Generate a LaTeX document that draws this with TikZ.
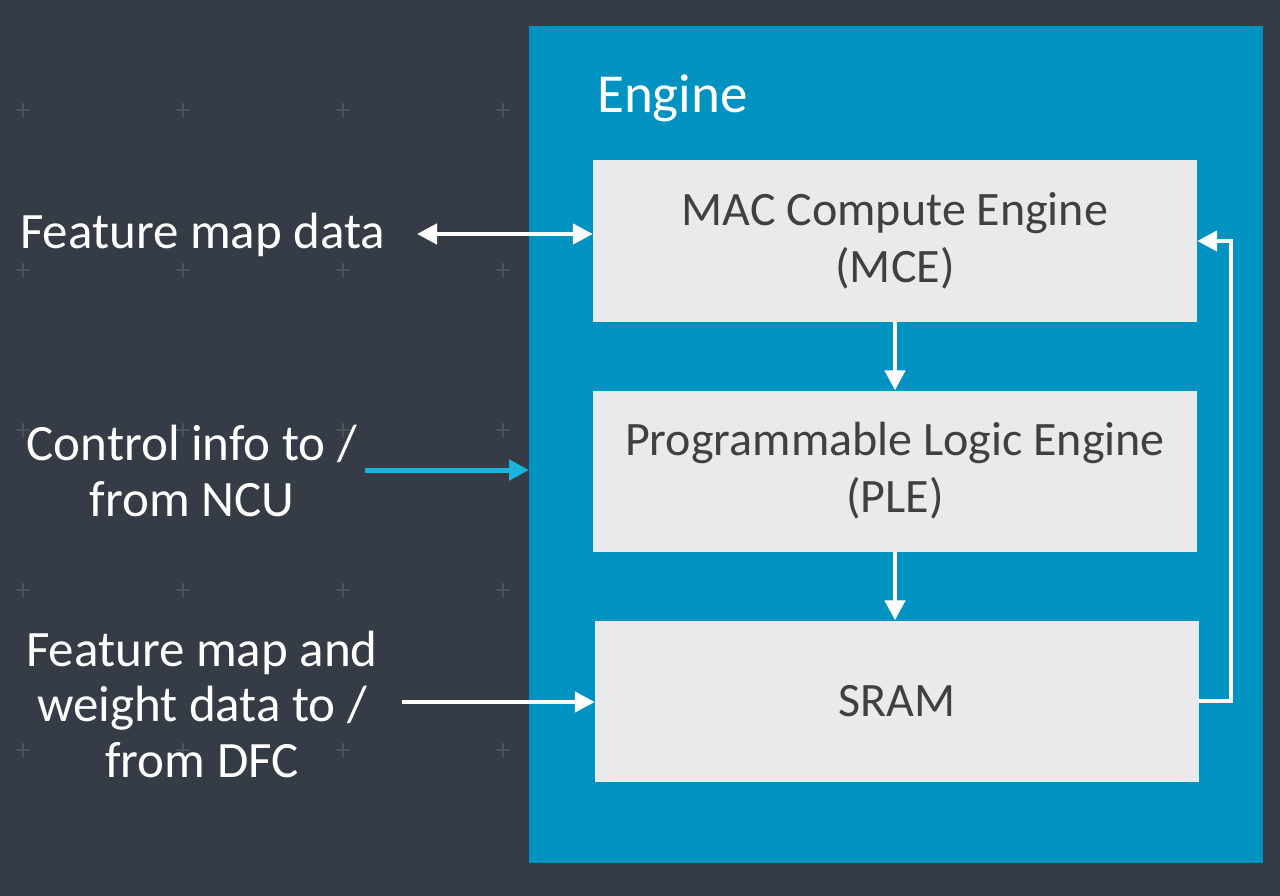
\documentclass[tikz,border=0pt]{standalone}
\usepackage{fontspec}
\setmainfont{Carlito}
\usetikzlibrary{arrows.meta}
\definecolor{bgc}{HTML}{353C46}
\definecolor{engblue}{HTML}{0093C1}
\definecolor{boxc}{HTML}{E8EAEB}
\definecolor{boxtxt}{HTML}{404040}
\definecolor{ctrlc}{HTML}{1AB4DC}
\definecolor{plusc}{HTML}{4A525C}
\tikzset{
  blk/.style={fill=boxc, draw=none, minimum width=604pt, inner sep=0pt, text=boxtxt,
    align=center, font=\fontsize{48}{57}\selectfont},
  lbl/.style={text=white, align=center, inner sep=0pt, font=\fontsize{51}{55.5}\selectfont},
  tip/.style={Triangle[length=20pt,width=20pt]},
  wline/.style={draw=white, line width=4.5pt, -{Triangle[length=20pt,width=20pt]}},
  cline/.style={draw=ctrlc, line width=5pt, -{Triangle[length=20pt,width=20pt]}},
  plusmark/.style={draw=plusc, line width=1.8pt}
}
\begin{document}
\begin{tikzpicture}[x=1pt,y=-1pt]
\useasboundingbox (0,0) rectangle (1280,896);
\fill[bgc] (0,0) rectangle (1280,896);
% plus grid
\foreach \px in {23,183,343,503}{
  \foreach \py in {110,270,430,590,750}{
    \draw[plusmark] (\px-7,\py) -- (\px+7,\py);
    \draw[plusmark] (\px,\py-7) -- (\px,\py+7);
  }
}
% engine container
\node[fill=engblue, minimum width=734pt, minimum height=837pt, inner sep=0pt, anchor=north west] (engine) at (529,26) {};
\node[text=white, anchor=base west, inner sep=0pt, font=\fontsize{55}{60}\selectfont] (title) at (597,113) {Engine};
% blocks
\node[blk, minimum height=162pt] (mce) at (895,241) {MAC Compute Engine\\(MCE)};
\node[blk, minimum height=161pt] (ple) at (895,471) {Programmable Logic Engine\\(PLE)};
\node[blk, minimum height=161pt] (sram) at (897,701) {SRAM};
% left labels
\node[lbl, anchor=base west] (fmd) at (20,249) {Feature map data};
\node[lbl] (ctl) at (192,471) {Control info to /\\from NCU};
\node[lbl] (dfc) at (202,704) {Feature map and\\weight data to /\\from DFC};
% connectors
\coordinate (fma) at (417,234);
\draw[wline, {Triangle[length=20pt,width=20pt]}-{Triangle[length=20pt,width=20pt]}] (fma) -- (fma -| mce.west);
\coordinate (cta) at (365,470);
\draw[cline] (cta) -- (cta -| engine.west);
\coordinate (sra) at (402,702);
\draw[wline] (sra) -- (sra -| sram.west);
\draw[wline] (mce.south) -- (ple.north);
\draw[wline] (ple.south) -- (ple.south |- sram.north);
\draw[wline] (sram.east) -- ++(32,0) |- (mce.east);
\end{tikzpicture}
\end{document}
